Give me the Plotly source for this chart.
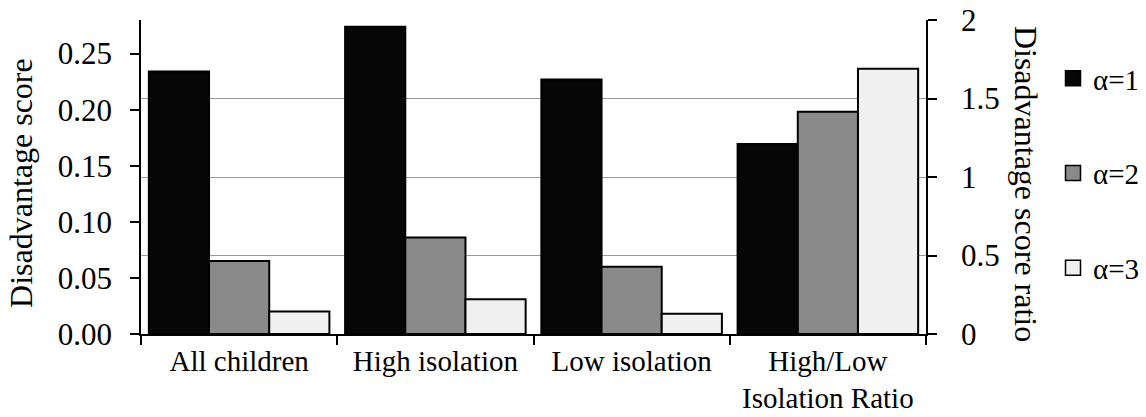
import plotly.graph_objects as go

categories = ["All children", "High isolation", "Low isolation", "High/Low<br>Isolation Ratio"]
score_cats = categories[:3]
ratio_cats = categories[3:]
series_names = ["α=1", "α=2", "α=3"]

# Disadvantage scores (left axis) for the three groups
score_a1 = [0.234, 0.274, 0.227]
score_a2 = [0.065, 0.086, 0.060]
score_a3 = [0.020, 0.031, 0.018]
# High/Low isolation ratio (right axis)
ratio_a1 = [1.21]
ratio_a2 = [1.415]
ratio_a3 = [1.69]

colors = ["#060606", "#8a8a8a", "#f0f0f0"]
FONT = "Liberation Serif"

fig = go.Figure()
scores = [score_a1, score_a2, score_a3]
ratios = [ratio_a1, ratio_a2, ratio_a3]
for i, name in enumerate(series_names):
    fig.add_trace(go.Bar(
        x=score_cats, y=scores[i], name=name, offsetgroup=f"g{i}",
        legendgroup=f"g{i}", showlegend=False, yaxis="y",
        marker=dict(color=colors[i], line=dict(color="#000000", width=2)),
    ))
for i, name in enumerate(series_names):
    fig.add_trace(go.Bar(
        x=ratio_cats, y=ratios[i], name=name, offsetgroup=f"g{i}",
        legendgroup=f"g{i}", showlegend=False, yaxis="y2",
        marker=dict(color=colors[i], line=dict(color="#000000", width=2)),
    ))
# legend entries (larger square swatches, as in the original)
for i, name in enumerate(series_names):
    fig.add_trace(go.Scatter(
        x=[None], y=[None], mode="markers", name=name, legendgroup=f"g{i}",
        marker=dict(symbol="square", size=15, color=colors[i],
                    line=dict(color="#000000", width=1.5)),
    ))

fig.update_layout(
    width=1146, height=417,
    margin=dict(l=141, r=220, t=20, b=83, autoexpand=False),
    paper_bgcolor="white", plot_bgcolor="white",
    font=dict(family=FONT, size=30, color="black"),
    barmode="group", bargap=0.08, bargroupgap=0,
    showlegend=True,
    legend=dict(
        xref="container", x=1053 / 1146, y=0.895, xanchor="left", yanchor="top",
        font=dict(size=29), tracegroupgap=54,
        itemwidth=30, bgcolor="rgba(0,0,0,0)",
    ),
    xaxis=dict(
        categoryorder="array", categoryarray=categories,
        showline=True, linecolor="black", linewidth=1.5,
        ticks="outside", tickson="boundaries", ticklen=9, tickwidth=1.5, tickcolor="black",
        tickfont=dict(size=29), showgrid=False, ticklabelstandoff=0,
    ),
    yaxis=dict(
        range=[0, 0.28], dtick=0.05, tick0=0, tickformat=".2f",
        showline=True, linecolor="black", linewidth=1.5,
        ticks="outside", ticklen=9, tickwidth=1.5, tickcolor="black",
        showgrid=False, zeroline=False, tickfont=dict(size=31),
        ticklabelstandoff=12,
    ),
    yaxis2=dict(
        overlaying="y", side="right", range=[0, 2], dtick=0.5, tick0=0,
        showline=True, linecolor="black", linewidth=1.5,
        ticks="outside", ticklen=9, tickwidth=1.5, tickcolor="black",
        showgrid=True, gridcolor="#9a9a9a", gridwidth=1.3, zeroline=False,
        tickfont=dict(size=31), ticklabelstandoff=18,
    ),
    annotations=[
        dict(text="Disadvantage score", xref="paper", yref="paper",
             x=(21 - 141) / 785, y=0.481, xanchor="center", yanchor="middle",
             textangle=-90, showarrow=False, font=dict(size=32)),
        dict(text="Disadvantage score ratio", xref="paper", yref="paper",
             x=(1026 - 141) / 785, y=0.478, xanchor="center", yanchor="middle",
             textangle=90, showarrow=False, font=dict(size=32)),
    ],
)

fig.write_html("out.html")
